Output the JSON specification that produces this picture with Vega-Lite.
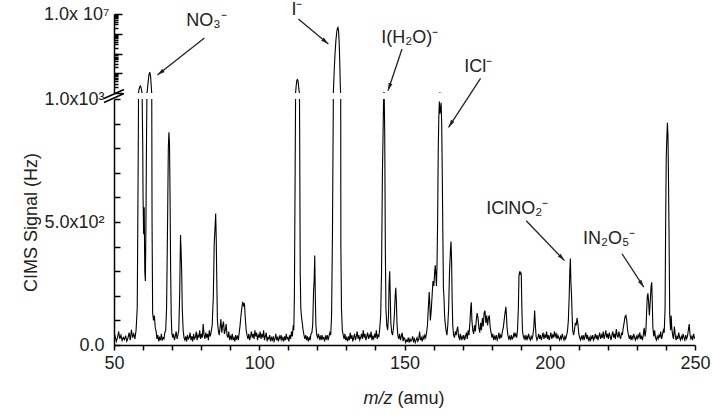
{
"$schema": "https://vega.github.io/schema/vega-lite/v6.json",
"background": "white",
"padding": {"left": 21, "top": 0, "right": 4, "bottom": 4},
"bounds": "flush",
"spacing": 6,
"config": {
  "view": {"stroke": null},
  "font": "Liberation Sans",
  "axis": {"domainColor": "black", "domainWidth": 1.5, "tickColor": "black", "tickWidth": 1.5, "labelFont": "Liberation Sans", "labelFontSize": 18, "labelColor": "#222", "titleFont": "Liberation Sans", "titleFontSize": 18, "titleFontWeight": "normal", "titleColor": "#222", "grid": false}
},
"datasets": {
"spec": [
{"m":50,"s":20},{"m":50.4,"s":35},{"m":50.8,"s":15},{"m":51.2,"s":30},{"m":51.6,"s":55},{"m":52,"s":25},{"m":52.4,"s":40},{"m":52.8,"s":18},{"m":53.2,"s":30},{"m":53.6,"s":22},{"m":54,"s":38},{"m":54.4,"s":15},{"m":54.8,"s":28},{"m":55.2,"s":50},{"m":55.6,"s":20},{"m":56,"s":62},{"m":56.4,"s":30},{"m":56.8,"s":45},{"m":57.2,"s":25},{"m":57.6,"s":60},{"m":58,"s":150},{"m":58.2,"s":500},{"m":58.4,"s":900},{"m":58.6,"s":1500},{"m":58.9,"s":2100},{"m":59.1,"s":2250},{"m":59.3,"s":1900},{"m":59.5,"s":1300},{"m":59.7,"s":1000},{"m":59.9,"s":800},{"m":60,"s":600},{"m":60.2,"s":450},{"m":60.4,"s":560},{"m":60.6,"s":300},{"m":60.8,"s":260},{"m":61,"s":500},{"m":61.2,"s":850},{"m":61.4,"s":1100},{"m":61.7,"s":3000},{"m":62,"s":8000},{"m":62.3,"s":11500},{"m":62.6,"s":7000},{"m":62.9,"s":1500},{"m":63.1,"s":500},{"m":63.3,"s":130},{"m":63.6,"s":100},{"m":63.9,"s":120},{"m":64.2,"s":70},{"m":64.5,"s":55},{"m":64.8,"s":25},{"m":65.1,"s":40},{"m":65.4,"s":15},{"m":65.7,"s":30},{"m":66,"s":20},{"m":66.3,"s":45},{"m":66.6,"s":18},{"m":66.9,"s":30},{"m":67.2,"s":25},{"m":67.5,"s":50},{"m":67.8,"s":60},{"m":68.1,"s":150},{"m":68.4,"s":450},{"m":68.7,"s":800},{"m":68.9,"s":865},{"m":69.1,"s":820},{"m":69.3,"s":600},{"m":69.5,"s":300},{"m":69.7,"s":120},{"m":69.9,"s":50},{"m":70.2,"s":30},{"m":70.5,"s":45},{"m":70.8,"s":20},{"m":71.1,"s":35},{"m":71.4,"s":55},{"m":71.7,"s":25},{"m":72,"s":40},{"m":72.3,"s":60},{"m":72.6,"s":200},{"m":72.9,"s":447},{"m":73.1,"s":380},{"m":73.3,"s":300},{"m":73.5,"s":150},{"m":73.8,"s":60},{"m":74.1,"s":30},{"m":74.4,"s":20},{"m":74.7,"s":35},{"m":75,"s":15},{"m":75.3,"s":40},{"m":75.6,"s":25},{"m":75.9,"s":30},{"m":76.2,"s":50},{"m":76.5,"s":20},{"m":76.8,"s":35},{"m":77.1,"s":15},{"m":77.4,"s":45},{"m":77.7,"s":25},{"m":78,"s":30},{"m":78.3,"s":55},{"m":78.6,"s":20},{"m":78.9,"s":40},{"m":79.2,"s":30},{"m":79.5,"s":60},{"m":79.8,"s":25},{"m":80.1,"s":45},{"m":80.4,"s":30},{"m":80.7,"s":85},{"m":81,"s":40},{"m":81.3,"s":25},{"m":81.6,"s":50},{"m":81.9,"s":30},{"m":82.2,"s":45},{"m":82.5,"s":20},{"m":82.8,"s":60},{"m":83.1,"s":35},{"m":83.4,"s":50},{"m":83.8,"s":80},{"m":84.2,"s":200},{"m":84.5,"s":415},{"m":84.8,"s":480},{"m":85,"s":534},{"m":85.2,"s":430},{"m":85.4,"s":250},{"m":85.6,"s":100},{"m":85.9,"s":60},{"m":86.2,"s":40},{"m":86.5,"s":70},{"m":86.8,"s":105},{"m":87.1,"s":50},{"m":87.4,"s":80},{"m":87.7,"s":95},{"m":88,"s":45},{"m":88.3,"s":60},{"m":88.6,"s":85},{"m":88.9,"s":40},{"m":89.2,"s":30},{"m":89.5,"s":55},{"m":89.8,"s":20},{"m":90.1,"s":35},{"m":90.4,"s":25},{"m":90.7,"s":45},{"m":91,"s":20},{"m":91.3,"s":30},{"m":91.6,"s":15},{"m":91.9,"s":40},{"m":92.2,"s":25},{"m":92.5,"s":35},{"m":92.8,"s":20},{"m":93.1,"s":50},{"m":93.4,"s":80},{"m":93.7,"s":120},{"m":94,"s":150},{"m":94.3,"s":175},{"m":94.6,"s":160},{"m":94.9,"s":170},{"m":95.2,"s":110},{"m":95.5,"s":60},{"m":95.8,"s":40},{"m":96.1,"s":25},{"m":96.4,"s":45},{"m":96.7,"s":20},{"m":97,"s":35},{"m":97.3,"s":55},{"m":97.6,"s":30},{"m":97.9,"s":45},{"m":98.2,"s":25},{"m":98.5,"s":60},{"m":98.8,"s":35},{"m":99.1,"s":50},{"m":99.4,"s":20},{"m":99.7,"s":40},{"m":100,"s":30},{"m":100.3,"s":55},{"m":100.6,"s":25},{"m":100.9,"s":45},{"m":101.2,"s":30},{"m":101.5,"s":60},{"m":101.8,"s":20},{"m":102.1,"s":35},{"m":102.4,"s":50},{"m":102.7,"s":15},{"m":103,"s":30},{"m":103.3,"s":25},{"m":103.6,"s":40},{"m":103.9,"s":15},{"m":104.2,"s":30},{"m":104.5,"s":20},{"m":104.8,"s":35},{"m":105.1,"s":15},{"m":105.4,"s":25},{"m":105.7,"s":45},{"m":106,"s":20},{"m":106.3,"s":30},{"m":106.6,"s":15},{"m":106.9,"s":35},{"m":107.2,"s":25},{"m":107.5,"s":40},{"m":107.8,"s":20},{"m":108.1,"s":30},{"m":108.4,"s":15},{"m":108.7,"s":35},{"m":109,"s":20},{"m":109.3,"s":45},{"m":109.6,"s":25},{"m":109.9,"s":30},{"m":110.2,"s":15},{"m":110.5,"s":40},{"m":110.8,"s":25},{"m":111.1,"s":55},{"m":111.4,"s":35},{"m":111.7,"s":80},{"m":111.9,"s":60},{"m":112.1,"s":200},{"m":112.3,"s":600},{"m":112.5,"s":1000},{"m":112.7,"s":2200},{"m":112.9,"s":4000},{"m":113.1,"s":4900},{"m":113.3,"s":4500},{"m":113.5,"s":2500},{"m":113.7,"s":1300},{"m":113.9,"s":900},{"m":114.1,"s":300},{"m":114.3,"s":150},{"m":114.5,"s":120},{"m":114.8,"s":90},{"m":115.1,"s":60},{"m":115.4,"s":40},{"m":115.7,"s":25},{"m":116,"s":40},{"m":116.3,"s":20},{"m":116.6,"s":35},{"m":116.9,"s":15},{"m":117.2,"s":30},{"m":117.5,"s":20},{"m":117.8,"s":45},{"m":118.1,"s":50},{"m":118.4,"s":80},{"m":118.7,"s":220},{"m":118.9,"s":260},{"m":119.1,"s":364},{"m":119.3,"s":200},{"m":119.5,"s":80},{"m":119.8,"s":40},{"m":120.1,"s":30},{"m":120.4,"s":45},{"m":120.7,"s":25},{"m":121,"s":35},{"m":121.3,"s":20},{"m":121.6,"s":40},{"m":121.9,"s":25},{"m":122.2,"s":30},{"m":122.5,"s":15},{"m":122.8,"s":35},{"m":123.1,"s":25},{"m":123.4,"s":40},{"m":123.7,"s":20},{"m":124,"s":35},{"m":124.3,"s":50},{"m":124.6,"s":40},{"m":124.9,"s":120},{"m":125.2,"s":450},{"m":125.5,"s":1000},{"m":125.8,"s":13500},{"m":126.1,"s":107000},{"m":126.4,"s":490000},{"m":126.7,"s":1300000},{"m":126.9,"s":1900000},{"m":127.1,"s":2100000},{"m":127.3,"s":1400000},{"m":127.5,"s":390000},{"m":127.7,"s":47000},{"m":127.9,"s":2500},{"m":128.1,"s":400},{"m":128.3,"s":150},{"m":128.6,"s":60},{"m":128.9,"s":40},{"m":129.2,"s":25},{"m":129.5,"s":45},{"m":129.8,"s":20},{"m":130.1,"s":30},{"m":130.4,"s":15},{"m":130.7,"s":35},{"m":131,"s":20},{"m":131.3,"s":50},{"m":131.6,"s":25},{"m":131.9,"s":40},{"m":132.2,"s":15},{"m":132.5,"s":30},{"m":132.8,"s":45},{"m":133.1,"s":20},{"m":133.4,"s":35},{"m":133.7,"s":55},{"m":134,"s":25},{"m":134.3,"s":40},{"m":134.6,"s":20},{"m":134.9,"s":30},{"m":135.2,"s":45},{"m":135.5,"s":25},{"m":135.8,"s":60},{"m":136.1,"s":30},{"m":136.4,"s":45},{"m":136.7,"s":20},{"m":137,"s":35},{"m":137.3,"s":50},{"m":137.6,"s":25},{"m":137.9,"s":40},{"m":138.2,"s":30},{"m":138.5,"s":55},{"m":138.8,"s":20},{"m":139.1,"s":35},{"m":139.4,"s":25},{"m":139.7,"s":45},{"m":140,"s":30},{"m":140.3,"s":60},{"m":140.6,"s":25},{"m":140.9,"s":40},{"m":141.2,"s":35},{"m":141.5,"s":70},{"m":141.8,"s":120},{"m":142.1,"s":300},{"m":142.4,"s":700},{"m":142.6,"s":840},{"m":142.8,"s":1000},{"m":143,"s":1030},{"m":143.2,"s":850},{"m":143.4,"s":400},{"m":143.6,"s":150},{"m":143.9,"s":80},{"m":144.2,"s":60},{"m":144.5,"s":120},{"m":144.7,"s":250},{"m":144.9,"s":300},{"m":145.1,"s":200},{"m":145.3,"s":90},{"m":145.6,"s":50},{"m":145.9,"s":40},{"m":146.2,"s":70},{"m":146.5,"s":120},{"m":146.8,"s":200},{"m":147,"s":233},{"m":147.2,"s":180},{"m":147.4,"s":90},{"m":147.7,"s":40},{"m":148,"s":25},{"m":148.3,"s":45},{"m":148.6,"s":20},{"m":148.9,"s":35},{"m":149.2,"s":50},{"m":149.5,"s":15},{"m":149.8,"s":30},{"m":150.1,"s":25},{"m":150.4,"s":10},{"m":150.7,"s":20},{"m":151,"s":15},{"m":151.3,"s":30},{"m":151.6,"s":10},{"m":151.9,"s":25},{"m":152.2,"s":15},{"m":152.5,"s":20},{"m":152.8,"s":35},{"m":153.1,"s":15},{"m":153.4,"s":25},{"m":153.7,"s":10},{"m":154,"s":20},{"m":154.3,"s":30},{"m":154.6,"s":15},{"m":154.9,"s":25},{"m":155.2,"s":55},{"m":155.5,"s":20},{"m":155.8,"s":30},{"m":156.1,"s":15},{"m":156.4,"s":35},{"m":156.7,"s":25},{"m":157,"s":40},{"m":157.3,"s":30},{"m":157.6,"s":50},{"m":157.9,"s":80},{"m":158.2,"s":150},{"m":158.5,"s":215},{"m":158.7,"s":170},{"m":158.9,"s":100},{"m":159.2,"s":140},{"m":159.5,"s":200},{"m":159.8,"s":260},{"m":160.1,"s":240},{"m":160.4,"s":300},{"m":160.6,"s":324},{"m":160.8,"s":280},{"m":161,"s":240},{"m":161.2,"s":330},{"m":161.4,"s":500},{"m":161.6,"s":780},{"m":161.8,"s":920},{"m":162,"s":990},{"m":162.2,"s":940},{"m":162.4,"s":960},{"m":162.6,"s":985},{"m":162.8,"s":900},{"m":163,"s":700},{"m":163.2,"s":450},{"m":163.4,"s":230},{"m":163.6,"s":190},{"m":163.8,"s":120},{"m":164,"s":90},{"m":164.3,"s":60},{"m":164.6,"s":40},{"m":164.9,"s":80},{"m":165.2,"s":150},{"m":165.5,"s":300},{"m":165.8,"s":380},{"m":166,"s":421},{"m":166.2,"s":350},{"m":166.4,"s":190},{"m":166.6,"s":80},{"m":166.9,"s":40},{"m":167.2,"s":30},{"m":167.5,"s":55},{"m":167.8,"s":40},{"m":168.1,"s":65},{"m":168.3,"s":75},{"m":168.6,"s":35},{"m":168.9,"s":25},{"m":169.2,"s":45},{"m":169.5,"s":20},{"m":169.8,"s":35},{"m":170.1,"s":25},{"m":170.4,"s":40},{"m":170.7,"s":20},{"m":171,"s":35},{"m":171.3,"s":50},{"m":171.6,"s":25},{"m":171.9,"s":60},{"m":172.2,"s":40},{"m":172.5,"s":90},{"m":172.8,"s":150},{"m":173,"s":174},{"m":173.2,"s":100},{"m":173.5,"s":60},{"m":173.8,"s":45},{"m":174.1,"s":80},{"m":174.4,"s":55},{"m":174.7,"s":100},{"m":175,"s":130},{"m":175.3,"s":110},{"m":175.6,"s":70},{"m":175.9,"s":50},{"m":176.2,"s":90},{"m":176.5,"s":60},{"m":176.8,"s":110},{"m":177.1,"s":75},{"m":177.4,"s":130},{"m":177.7,"s":140},{"m":178,"s":90},{"m":178.3,"s":120},{"m":178.6,"s":80},{"m":178.9,"s":110},{"m":179.2,"s":120},{"m":179.5,"s":70},{"m":179.8,"s":50},{"m":180.1,"s":30},{"m":180.4,"s":45},{"m":180.7,"s":20},{"m":181,"s":35},{"m":181.3,"s":25},{"m":181.6,"s":40},{"m":181.9,"s":20},{"m":182.2,"s":30},{"m":182.5,"s":50},{"m":182.8,"s":25},{"m":183.1,"s":40},{"m":183.4,"s":30},{"m":183.7,"s":55},{"m":184,"s":70},{"m":184.3,"s":100},{"m":184.6,"s":130},{"m":184.9,"s":155},{"m":185.1,"s":120},{"m":185.3,"s":70},{"m":185.6,"s":40},{"m":185.9,"s":25},{"m":186.2,"s":35},{"m":186.5,"s":20},{"m":186.8,"s":40},{"m":187.1,"s":25},{"m":187.4,"s":30},{"m":187.7,"s":50},{"m":188,"s":35},{"m":188.3,"s":45},{"m":188.6,"s":30},{"m":188.9,"s":60},{"m":189.2,"s":150},{"m":189.4,"s":280},{"m":189.6,"s":295},{"m":189.8,"s":290},{"m":190,"s":295},{"m":190.2,"s":285},{"m":190.4,"s":150},{"m":190.6,"s":60},{"m":190.9,"s":35},{"m":191.2,"s":25},{"m":191.5,"s":40},{"m":191.8,"s":20},{"m":192.1,"s":35},{"m":192.4,"s":25},{"m":192.7,"s":45},{"m":193,"s":30},{"m":193.3,"s":20},{"m":193.6,"s":35},{"m":193.9,"s":25},{"m":194.2,"s":40},{"m":194.5,"s":70},{"m":194.8,"s":140},{"m":195,"s":90},{"m":195.3,"s":35},{"m":195.6,"s":20},{"m":195.9,"s":30},{"m":196.2,"s":45},{"m":196.5,"s":25},{"m":196.8,"s":40},{"m":197.1,"s":20},{"m":197.4,"s":35},{"m":197.7,"s":50},{"m":198,"s":25},{"m":198.3,"s":40},{"m":198.6,"s":30},{"m":198.9,"s":55},{"m":199.2,"s":25},{"m":199.5,"s":40},{"m":199.8,"s":20},{"m":200.1,"s":35},{"m":200.4,"s":50},{"m":200.7,"s":25},{"m":201,"s":40},{"m":201.3,"s":30},{"m":201.6,"s":55},{"m":201.9,"s":35},{"m":202.2,"s":45},{"m":202.5,"s":25},{"m":202.8,"s":40},{"m":203.1,"s":30},{"m":203.4,"s":20},{"m":203.7,"s":35},{"m":204,"s":25},{"m":204.3,"s":45},{"m":204.6,"s":30},{"m":204.9,"s":20},{"m":205.2,"s":35},{"m":205.5,"s":25},{"m":205.8,"s":40},{"m":206.1,"s":55},{"m":206.4,"s":100},{"m":206.7,"s":200},{"m":206.9,"s":300},{"m":207.1,"s":352},{"m":207.3,"s":250},{"m":207.5,"s":200},{"m":207.7,"s":120},{"m":207.9,"s":60},{"m":208.2,"s":40},{"m":208.5,"s":60},{"m":208.8,"s":90},{"m":209.1,"s":80},{"m":209.4,"s":110},{"m":209.7,"s":85},{"m":210,"s":45},{"m":210.3,"s":30},{"m":210.6,"s":20},{"m":210.9,"s":35},{"m":211.2,"s":25},{"m":211.5,"s":40},{"m":211.8,"s":20},{"m":212.1,"s":35},{"m":212.4,"s":50},{"m":212.7,"s":25},{"m":213,"s":40},{"m":213.3,"s":20},{"m":213.6,"s":30},{"m":213.9,"s":15},{"m":214.2,"s":35},{"m":214.5,"s":25},{"m":214.8,"s":40},{"m":215.1,"s":20},{"m":215.4,"s":30},{"m":215.7,"s":45},{"m":216,"s":25},{"m":216.3,"s":40},{"m":216.6,"s":20},{"m":216.9,"s":35},{"m":217.2,"s":50},{"m":217.5,"s":25},{"m":217.8,"s":40},{"m":218.1,"s":30},{"m":218.4,"s":55},{"m":218.7,"s":25},{"m":219,"s":40},{"m":219.3,"s":60},{"m":219.6,"s":30},{"m":219.9,"s":45},{"m":220.2,"s":25},{"m":220.5,"s":50},{"m":220.8,"s":35},{"m":221.1,"s":20},{"m":221.4,"s":40},{"m":221.7,"s":55},{"m":222,"s":30},{"m":222.3,"s":45},{"m":222.6,"s":25},{"m":222.9,"s":65},{"m":223.2,"s":40},{"m":223.5,"s":30},{"m":223.8,"s":55},{"m":224.1,"s":35},{"m":224.4,"s":25},{"m":224.7,"s":50},{"m":225,"s":40},{"m":225.3,"s":70},{"m":225.6,"s":90},{"m":225.9,"s":115},{"m":226.2,"s":120},{"m":226.5,"s":100},{"m":226.8,"s":60},{"m":227.1,"s":40},{"m":227.4,"s":25},{"m":227.7,"s":40},{"m":228,"s":20},{"m":228.3,"s":35},{"m":228.6,"s":25},{"m":228.9,"s":45},{"m":229.2,"s":30},{"m":229.5,"s":20},{"m":229.8,"s":35},{"m":230.1,"s":25},{"m":230.4,"s":40},{"m":230.7,"s":30},{"m":231,"s":50},{"m":231.3,"s":25},{"m":231.6,"s":35},{"m":231.9,"s":20},{"m":232.2,"s":40},{"m":232.5,"s":70},{"m":232.8,"s":35},{"m":233.1,"s":60},{"m":233.4,"s":150},{"m":233.6,"s":200},{"m":233.8,"s":210},{"m":234,"s":180},{"m":234.3,"s":120},{"m":234.6,"s":180},{"m":234.9,"s":240},{"m":235.1,"s":255},{"m":235.3,"s":170},{"m":235.5,"s":70},{"m":235.8,"s":35},{"m":236.1,"s":60},{"m":236.4,"s":30},{"m":236.7,"s":20},{"m":237,"s":35},{"m":237.3,"s":25},{"m":237.6,"s":40},{"m":237.9,"s":30},{"m":238.2,"s":55},{"m":238.5,"s":25},{"m":238.8,"s":40},{"m":239.1,"s":60},{"m":239.4,"s":50},{"m":239.7,"s":150},{"m":239.9,"s":500},{"m":240.1,"s":760},{"m":240.3,"s":840},{"m":240.5,"s":903},{"m":240.7,"s":850},{"m":240.9,"s":650},{"m":241.1,"s":400},{"m":241.3,"s":120},{"m":241.6,"s":60},{"m":241.8,"s":120},{"m":242,"s":70},{"m":242.3,"s":40},{"m":242.6,"s":25},{"m":242.9,"s":75},{"m":243.2,"s":40},{"m":243.5,"s":20},{"m":243.8,"s":35},{"m":244.1,"s":25},{"m":244.4,"s":50},{"m":244.7,"s":30},{"m":245,"s":20},{"m":245.3,"s":35},{"m":245.6,"s":25},{"m":245.9,"s":45},{"m":246.2,"s":30},{"m":246.5,"s":20},{"m":246.8,"s":40},{"m":247.1,"s":25},{"m":247.4,"s":35},{"m":247.7,"s":60},{"m":248,"s":85},{"m":248.3,"s":40},{"m":248.6,"s":25},{"m":248.9,"s":35},{"m":249.2,"s":20},{"m":249.5,"s":45},{"m":249.8,"s":30},{"m":250,"s":25}
],
"arrowsUp": [
{"lab":"NO3","m":81.13,"s":610000,"m2":64.96,"s2":8150},
{"lab":"I","m":113.47,"s":5600000,"m2":123.79,"s2":303000},
{"lab":"IH2O","m":149.14,"s":169000,"m2":144.32,"s2":1307}
],
"arrowsLow": [
{"lab":"ICl","m":176.18,"s":1084,"m2":165.17,"s2":885},
{"lab":"IClNO2","m":191.9,"s":505,"m2":205.08,"s2":343},
{"lab":"IN2O5","m":224.91,"s":370,"m2":232.38,"s2":235}
],
"labelsUp": [
{"t":"NO₃⁻","m":74.9,"s":4430000},
{"t":"I⁻","m":111.06,"s":16000000},
{"t":"I(H₂O)⁻","m":142.0,"s":610000}
],
"labelsLow": [
{"t":"ICl⁻","m":170.57,"s":1130},
{"t":"IClNO₂⁻","m":178.14,"s":553},
{"t":"IN₂O₅⁻","m":211.41,"s":431}
],
"xtitle": [{"m":150,"s":-219.5}],
"brk": [{"m":50,"s":1000}]
},
"vconcat": [
{
"width": 581,
"height": 79,
"encoding": {
  "x": {"field": "m", "type": "quantitative", "scale": {"domain": [50, 250], "nice": false, "zero": false}, "axis": null},
  "y": {"field": "s", "type": "quantitative", "scale": {"type": "log", "domain": [1000, 10000000], "nice": false},
   "axis": {"title": null, "labelOverlap": false, "labelFlush": false,
     "values": [1000,2000,3000,4000,5000,6000,7000,8000,9000,10000,20000,30000,40000,50000,60000,70000,80000,90000,100000,200000,300000,400000,500000,600000,700000,800000,900000,1000000,2000000,3000000,4000000,5000000,6000000,7000000,8000000,9000000,10000000],
     "labelExpr": "datum.value == 10000000 ? '1.0x 10⁷' : ''",
     "tickSize": {"condition": {"test": "abs(log(datum.value)/LN10 - round(log(datum.value)/LN10)) < 0.001", "value": -8}, "value": -4},
     "labelPadding": 13}}
},
"layer": [
{"data": {"name": "spec"},
 "mark": {"type": "line", "color": "black", "strokeWidth": 1.1, "clip": true}},
{"data": {"name": "arrowsUp"},
 "mark": {"type": "rule", "color": "#222", "strokeWidth": 1.3},
 "encoding": {"x2": {"field": "m2"}, "y2": {"field": "s2"}}},
{"data": {"name": "arrowsUp"}, "transform": [{"filter": "datum.lab == 'NO3'"}],
 "mark": {"type": "point", "shape": "M0,0L-0.5,1.9L0.5,1.9Z", "filled": true, "color": "#222", "opacity": 1, "size": 64, "angle": 232},
 "encoding": {"x": {"field": "m2", "type": "quantitative"}, "y": {"field": "s2", "type": "quantitative"}}},
{"data": {"name": "arrowsUp"}, "transform": [{"filter": "datum.lab == 'I'"}],
 "mark": {"type": "point", "shape": "M0,0L-0.5,1.9L0.5,1.9Z", "filled": true, "color": "#222", "opacity": 1, "size": 64, "angle": 130},
 "encoding": {"x": {"field": "m2", "type": "quantitative"}, "y": {"field": "s2", "type": "quantitative"}}},
{"data": {"name": "arrowsUp"}, "transform": [{"filter": "datum.lab == 'IH2O'"}],
 "mark": {"type": "point", "shape": "M0,0L-0.5,1.9L0.5,1.9Z", "filled": true, "color": "#222", "opacity": 1, "size": 64, "angle": 199},
 "encoding": {"x": {"field": "m2", "type": "quantitative"}, "y": {"field": "s2", "type": "quantitative"}}},
{"data": {"name": "labelsUp"},
 "mark": {"type": "text", "align": "left", "baseline": "middle", "font": "Liberation Sans", "fontSize": 18, "color": "#222"},
 "encoding": {"text": {"field": "t"}}}
]
},
{
"width": 581,
"height": 246,
"encoding": {
  "x": {"field": "m", "type": "quantitative", "scale": {"domain": [50, 250], "nice": false, "zero": false},
   "axis": {"title": null, "values": [50,60,70,80,90,100,110,120,130,140,150,160,170,180,190,200,210,220,230,240,250],
     "labelExpr": "datum.value % 50 == 0 ? datum.label : ''", "tickSize": 5, "labelPadding": 4, "labelOverlap": false, "labelFlush": false}},
  "y": {"field": "s", "type": "quantitative", "scale": {"domain": [0, 1000], "nice": false},
   "axis": {"title": "CIMS Signal (Hz)", "values": [0,100,200,300,400,500,600,700,800,900,1000],
     "labelExpr": "datum.value == 0 ? '0.0' : datum.value == 500 ? '5.0x10²' : datum.value == 1000 ? '1.0x10³' : ''",
     "tickSize": -6, "labelPadding": 16, "labelOverlap": false, "labelFlush": false, "titleX": -74}}
},
"layer": [
{"data": {"name": "spec"},
 "mark": {"type": "line", "color": "black", "strokeWidth": 1.1, "clip": true}},
{"data": {"name": "brk"},
 "mark": {"type": "point", "shape": "M-1,-0.05L1,-0.95M-1,0.35L1,-0.55", "filled": false, "stroke": "black", "strokeWidth": 1.5, "opacity": 1, "size": 400}},
{"data": {"name": "arrowsLow"},
 "mark": {"type": "rule", "color": "#222", "strokeWidth": 1.3},
 "encoding": {"x2": {"field": "m2"}, "y2": {"field": "s2"}}},
{"data": {"name": "arrowsLow"}, "transform": [{"filter": "datum.lab == 'ICl'"}],
 "mark": {"type": "point", "shape": "M0,0L-0.5,1.9L0.5,1.9Z", "filled": true, "color": "#222", "opacity": 1, "size": 64, "angle": 213},
 "encoding": {"x": {"field": "m2", "type": "quantitative"}, "y": {"field": "s2", "type": "quantitative"}}},
{"data": {"name": "arrowsLow"}, "transform": [{"filter": "datum.lab == 'IClNO2'"}],
 "mark": {"type": "point", "shape": "M0,0L-0.5,1.9L0.5,1.9Z", "filled": true, "color": "#222", "opacity": 1, "size": 64, "angle": 136},
 "encoding": {"x": {"field": "m2", "type": "quantitative"}, "y": {"field": "s2", "type": "quantitative"}}},
{"data": {"name": "arrowsLow"}, "transform": [{"filter": "datum.lab == 'IN2O5'"}],
 "mark": {"type": "point", "shape": "M0,0L-0.5,1.9L0.5,1.9Z", "filled": true, "color": "#222", "opacity": 1, "size": 64, "angle": 147},
 "encoding": {"x": {"field": "m2", "type": "quantitative"}, "y": {"field": "s2", "type": "quantitative"}}},
{"data": {"name": "labelsLow"},
 "mark": {"type": "text", "align": "left", "baseline": "middle", "font": "Liberation Sans", "fontSize": 18, "color": "#222"},
 "encoding": {"text": {"field": "t"}}},
{"data": {"name": "xtitle"},
 "mark": {"type": "text", "align": "right", "baseline": "middle", "dx": -12, "font": "Liberation Sans", "fontSize": 18, "fontStyle": "italic", "color": "#222", "text": "m/z"}},
{"data": {"name": "xtitle"},
 "mark": {"type": "text", "align": "left", "baseline": "middle", "dx": -7, "font": "Liberation Sans", "fontSize": 18, "color": "#222", "text": "(amu)"}}
]
}
]
}
